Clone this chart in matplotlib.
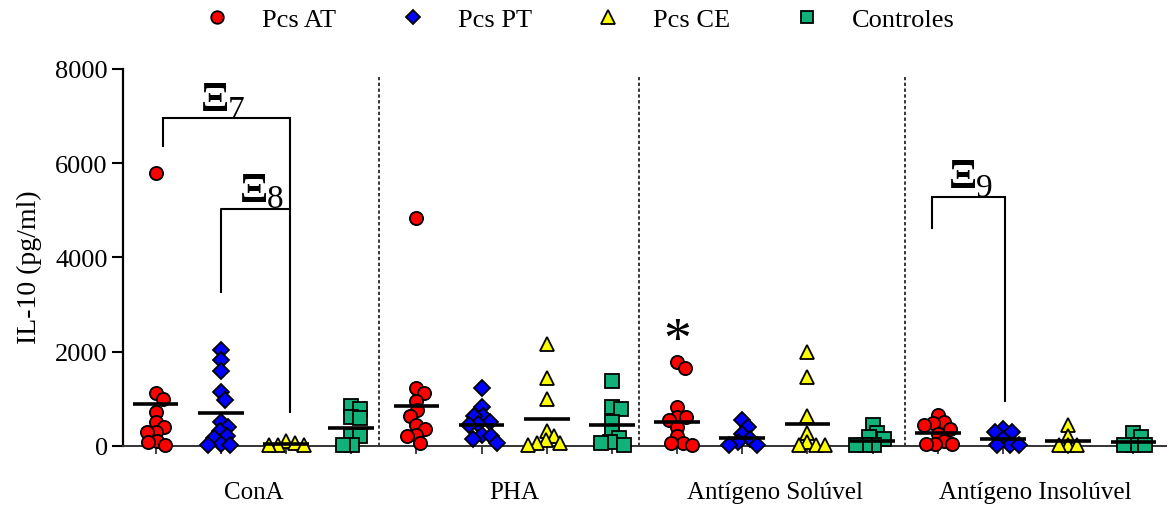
import numpy as np
import matplotlib
matplotlib.use("Agg")
import matplotlib.pyplot as plt
from matplotlib.lines import Line2D

plt.rcParams['font.family'] = ['Liberation Serif', 'DejaVu Serif']

# ---------------- data (IL-10, pg/ml) ----------------
groups = ["ConA", "PHA", "Antígeno Solúvel", "Antígeno Insolúvel"]
series = ["Pcs AT", "Pcs PT", "Pcs CE", "Controles"]

conA_AT = [5800, 1110, 1000, 725, 510, 405, 300, 300, 110, 85, 20]
conA_PT = [2030, 1820, 1580, 1130, 960, 510, 400, 320, 210, 170, 30, 20, 20]
conA_CE = [110, 60, 10, 5, 5]
conA_CT = [850, 790, 620, 580, 210, 210, 20, 20]

pha_AT = [4840, 1220, 1110, 940, 750, 640, 430, 360, 235, 210, 60]
pha_PT = [1220, 830, 640, 640, 510, 470, 430, 235, 210, 150, 60]
pha_CE = [2160, 1430, 1000, 320, 210, 130, 60, 60, 10]
pha_CT = [1370, 830, 790, 510, 300, 170, 85, 60, 10]

sol_AT = [1770, 1660, 830, 620, 600, 555, 405, 210, 60, 60, 10]
sol_PT = [555, 405, 255, 150, 85, 20, 10]
sol_CE = [1990, 1450, 640, 280, 85, 20, 10, 10]
sol_CT = [450, 280, 190, 150, 20, 10, 10]

ins_AT = [660, 510, 490, 450, 360, 255, 105, 45, 45, 40]
ins_PT = [360, 300, 290, 150, 10, 10, 10]
ins_CE = [430, 210, 10, 10, 10]
ins_CT = [280, 190, 10, 10, 10]

# horizontal bars (group means as drawn)
means_conA = [886, 701, 28, 382]
means_pha = [843, 446, 559, 446]
means_sol = [495, 163, 461, 91]
means_ins = [276, 134, 106, 79]

yticks = [0, 2000, 4000, 6000, 8000]

all_data = [[conA_AT, conA_PT, conA_CE, conA_CT],
            [pha_AT, pha_PT, pha_CE, pha_CT],
            [sol_AT, sol_PT, sol_CE, sol_CT],
            [ins_AT, ins_PT, ins_CE, ins_CT]]
all_means = [means_conA, means_pha, means_sol, means_ins]

# ---------------- style ----------------
colors = ["#FF0000", "#0000FF", "#FFFF00", "#10B27A"]
markers = ["o", "D", "^", "s"]
msizes = [9.5, 8.0, 10.5, 9.5]

fig = plt.figure(figsize=(11.68, 5.06), dpi=100)
ax = fig.add_axes([123/1168, 59.3/506, 1043/1168, 376.7/506])
ax.set_xlim(0.5, 16.5)
ax.set_ylim(0, 8000)

# pixel scales for swarm layout
xpx_per_unit = 1043/16.0
ypx_per_unit = 376.7/8000.0


def swarm_offsets(values, d_px):
    ys = np.asarray(values, dtype=float) * ypx_per_unit
    order = np.argsort(-ys)
    placed = []
    offs = np.zeros(len(ys))
    for i in order:
        best = None
        k = 0
        while best is None:
            cands = [0.0] if k == 0 else [k * 0.5, -k * 0.5]
            for c in cands:
                if all((c - px) ** 2 + (ys[i] - py) ** 2 >= d_px ** 2 for px, py in placed):
                    best = c
                    break
            k += 1
        offs[i] = best
        placed.append((best, ys[i]))
    return offs / xpx_per_unit


pos = 1
for g, (gdata, gmeans) in enumerate(zip(all_data, all_means)):
    for s, vals in enumerate(gdata):
        offs = swarm_offsets(vals, 9.0)
        ax.plot(pos + offs, vals, linestyle='none', marker=markers[s],
                ms=msizes[s], mfc=colors[s], mec='black', mew=1.3,
                clip_on=False, zorder=3)
        ax.plot([pos - 0.35, pos + 0.35], [gmeans[s], gmeans[s]],
                color='black', lw=2.6, solid_capstyle='butt', zorder=4)
        pos += 1

# separators
for xs in [4.43, 8.42, 12.49]:
    ax.plot([xs, xs], [0, 7830], color='black', lw=1.1,
            linestyle=(0, (2.2, 1.6)), zorder=1)

# axes styling
for sp in ['top', 'right']:
    ax.spines[sp].set_visible(False)
ax.spines['left'].set_linewidth(1.6)
ax.spines['bottom'].set_linewidth(1.4)
ax.spines['bottom'].set_color('#333333')
ax.set_yticks(yticks)
ax.set_yticklabels([str(v) for v in yticks])
ax.tick_params(axis='y', length=8, width=1.5, pad=3, labelsize=19)
ax.set_xticks(np.arange(1, 17))
ax.set_xticklabels([])
ax.tick_params(axis='x', length=6, width=1.3, color='#333333')
ax.set_ylabel("IL-10 (pg/ml)", fontsize=20)
ax.yaxis.set_label_coords(-0.078, 0.476)

for g, name in enumerate(groups):
    ax.text(2.5 + 4 * g, -0.123, name, transform=ax.get_xaxis_transform(),
            ha='center', va='center', fontsize=18)

# significance brackets
def bracket(x0, x1, ytop, yleft, yright):
    ax.plot([x0, x0, x1, x1], [yleft, ytop, ytop, yright], color='black',
            lw=1.5, zorder=2, solid_joinstyle='miter')

bracket(1.107, 3.058, 6954, 6366, 721)
ax.plot([2.0, 2.0, 3.058], [3268, 5029, 5029], color='black', lw=1.5, zorder=2)
bracket(12.91, 14.03, 5284, 4626, 955)

def xi_label(xc, yb, sub, xs, ys):
    ax.text(xc, yb, "Ξ", ha='center', va='baseline', fontsize=30, fontweight='bold')
    ax.text(xs, ys, sub, ha='left', va='baseline', fontsize=24)

xi_label(1.916, 7136, "7", 2.1, 6966)
xi_label(2.514, 5203, "8", 2.71, 5076)
xi_label(13.39, 5501, "9", 13.58, 5310)

ax.text(9, 1900, "*", ha='center', va='baseline', fontsize=40)

# legend
handles = [Line2D([], [], linestyle='none', marker=markers[i], ms=msizes[i] * 0.95,
                  mfc=colors[i], mec='black', mew=1.3) for i in range(4)]
fig.legend(handles, series, loc='center', bbox_to_anchor=(0.496, 0.96), ncol=4,
           frameon=False, fontsize=19, handlelength=1.0, handletextpad=1.2,
           columnspacing=2.4, borderpad=0.2)

fig.savefig("out.png", dpi=100)
